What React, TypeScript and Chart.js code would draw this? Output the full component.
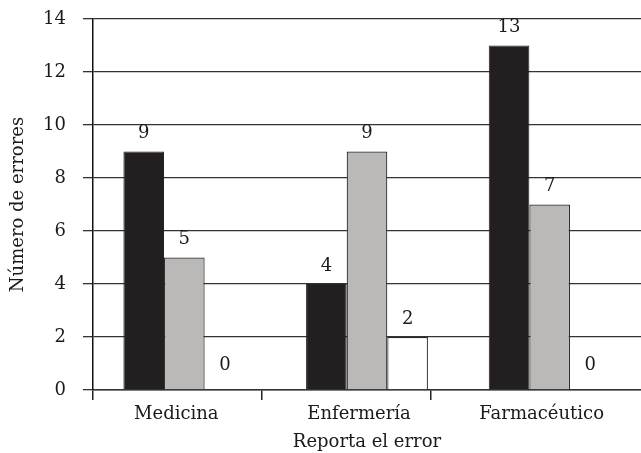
import React, { useEffect, useRef } from "react";
import { Chart, registerables } from "chart.js";
Chart.register(...registerables);

const categories = ["Medicina", "Enfermería", "Farmacéutico"];
const serieNegra = [9, 4, 13];
const serieGris = [5, 9, 7];
const serieBlanca = [0, 2, 0];
const yMin = 0;
const yMax = 14;
const yStep = 2;
const yTitle = "Número de errores";
const xTitle = "Reporta el error";
// secondary axis used only for the category separator ticks
const sepVisible = [0, 1, 2];
const sepMax = 3.2426;

const FONT = "'DejaVu Serif', serif";
const TEXT = "#1a1a1a";
const FS = 18;

export default function App() {
  const ref = useRef<HTMLCanvasElement>(null);
  useEffect(() => {
    if (!ref.current) return;
    const valueLabels = {
      id: "valueLabels",
      afterDatasetsDraw(chart: any) {
        const { ctx } = chart;
        ctx.save();
        ctx.font = `${FS}px ${FONT}`;
        ctx.fillStyle = TEXT;
        ctx.textAlign = "center";
        ctx.textBaseline = "bottom";
        chart.data.datasets.forEach((ds: any, i: number) => {
          const meta = chart.getDatasetMeta(i);
          meta.data.forEach((bar: any, j: number) => {
            const v = ds.data[j];
            const gap = v === 0 ? 16 : 9;
            ctx.fillText(String(v), bar.x, bar.y - gap);
          });
        });
        ctx.restore();
      },
    };
    const chart = new Chart(ref.current, {
      type: "bar",
      data: {
        labels: categories,
        datasets: [
          { data: serieNegra, backgroundColor: "#231f20", borderColor: "#222", borderWidth: 1, xAxisID: "x" },
          { data: serieGris, backgroundColor: "#bab9b7", borderColor: "#2a2a2a", borderWidth: 1.2, xAxisID: "x" },
          { data: serieBlanca, backgroundColor: "#ffffff", borderColor: "#2a2a2a", borderWidth: 1.2, xAxisID: "x" },
        ],
      },
      options: {
        animation: false,
        responsive: false,
        layout: { padding: { top: 19, right: 0, left: 0, bottom: 0 } },
        plugins: { legend: { display: false }, tooltip: { enabled: false } },
        datasets: { bar: { barPercentage: 1, categoryPercentage: 0.667 } },
        scales: {
          x: {
            weight: 1,
            afterFit(scale: any) { scale.height = 57; scale.paddingLeft = 0; scale.paddingRight = 0; },
            grid: { display: false },
            border: { display: false },
            ticks: { color: TEXT, font: { family: FONT, size: FS }, padding: 0, labelOffset: -8 },
            title: { display: true, text: xTitle, color: TEXT, font: { family: FONT, size: FS }, padding: { top: 0, bottom: 0 } },
          },
          x2: {
            type: "linear",
            position: "bottom",
            weight: 0,
            offset: false,
            min: 0,
            max: sepMax,
            afterFit(scale: any) { scale.height = 6; scale.paddingLeft = 0; scale.paddingRight = 0; },
            ticks: { stepSize: 1, autoSkip: false, padding: 0, callback: () => "" },
            grid: {
              offset: false,
              drawOnChartArea: false,
              drawTicks: true,
              tickLength: 10,
              lineWidth: 1.5,
              tickColor: (c: any) => (c.tick && sepVisible.includes(c.tick.value) ? "#222" : "rgba(0,0,0,0)"),
            },
            border: { display: true, color: "#333", width: 1.5 },
          },
          y: {
            min: yMin,
            max: yMax,
            afterFit(scale: any) { scale.width = 93; scale.paddingTop = 0; scale.paddingBottom = 0; },
            ticks: { stepSize: yStep, color: TEXT, font: { family: FONT, size: FS }, padding: 17 },
            grid: { color: "#333", lineWidth: 1.3, tickLength: 10, drawTicks: true },
            border: { display: true, color: "#111", width: 1.5 },
            title: { display: true, text: yTitle, color: TEXT, font: { family: FONT, size: FS, lineHeight: 2 }, padding: 0 },
          },
        },
      },
      plugins: [valueLabels],
    });
    return () => chart.destroy();
  }, []);
  return (
    <div style={{ position: "fixed", left: 0, top: 0, width: 641, height: 453, background: "#fff" }}>
      <canvas ref={ref} width={641} height={453} />
    </div>
  );
}
